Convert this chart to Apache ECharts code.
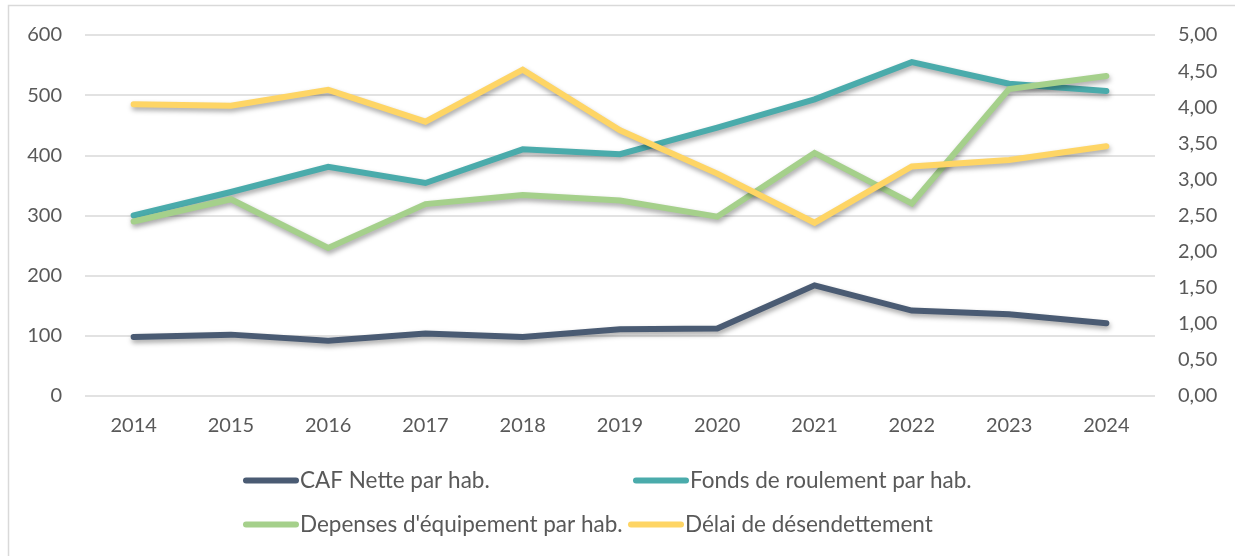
<!DOCTYPE html>
<html lang="fr">
<head>
    <meta charset="utf-8">
</head>
<body style="height: 100%; margin: 0; background: #fff">
<div id="container" style="width: 1235px; height: 556px"></div>

<script type="text/javascript" src="https://fastly.jsdelivr.net/npm/echarts@6/dist/echarts.min.js"></script>
<script type="text/javascript">
    // données
    var annees = ['2014', '2015', '2016', '2017', '2018', '2019', '2020', '2021', '2022', '2023', '2024'];
    var cafNette = [98, 102, 92, 104, 98, 111, 112, 184, 142, 136, 121];
    var fondsRoulement = [300, 339, 381, 354, 410, 402, 446, 493, 555, 519, 507];
    var depensesEquip = [290, 327, 246, 319, 334, 325, 298, 404, 320, 510, 532];
    var delaiDesendettement = [4.04, 4.02, 4.24, 3.80, 4.52, 3.68, 3.08, 2.40, 3.18, 3.27, 3.46];

    var noms = ['CAF Nette par hab.', 'Fonds de roulement par hab.', "Depenses d'équipement par hab.", 'Délai de désendettement'];
    var couleurs = ['#4a5b73', '#4aabab', '#a5d08b', '#fed565'];

    var dom = document.getElementById('container');
    var myChart = echarts.init(dom, null, { renderer: 'canvas' });

    var fontFamily = 'Lato, "Open Sans", sans-serif';
    var iconePath = 'path://M3,0 L53,0 A3,3 0 0 1 53,6 L3,6 A3,3 0 0 1 3,0 Z';

    function ligne(nom, data, couleur, axe) {
        return {
            name: nom,
            type: 'line',
            yAxisIndex: axe,
            data: data,
            showSymbol: false,
            symbol: 'none',
            color: couleur,
            lineStyle: {
                width: 6,
                color: couleur,
                cap: 'round',
                join: 'miter',
                shadowColor: 'rgba(0,0,0,0.35)',
                shadowBlur: 5,
                shadowOffsetX: 1,
                shadowOffsetY: 3
            }
        };
    }

    // une légende par entrée, placées comme dans l'original (2 colonnes)
    var legendPos = [[243, 469], [633, 469], [243, 513], [628, 513]];
    var legendes = noms.map(function (n, i) {
        return {
            data: [n],
            left: legendPos[i][0],
            top: legendPos[i][1],
            icon: iconePath,
            itemWidth: 56,
            itemHeight: 6,
            itemGap: 0,
            padding: 0,
            textStyle: { color: '#595959', fontSize: 22.5, fontFamily: fontFamily, padding: [0, 0, 0, -4] },
            selectedMode: false
        };
    });

    var option = {
        animation: false,
        backgroundColor: '#fff',
        graphic: [{
            type: 'rect',
            shape: { x: 8.5, y: 5.5, width: 1400, height: 700 },
            style: { fill: 'none', stroke: '#d9d9d9', lineWidth: 1.5 },
            silent: true
        }],
        legend: legendes,
        grid: {
            left: 85,
            right: 80,
            top: 35,
            height: 361,
            containLabel: false
        },
        xAxis: {
            type: 'category',
            data: annees,
            boundaryGap: true,
            axisLine: { show: false },
            axisTick: { show: false },
            axisLabel: { color: '#595959', fontSize: 20, fontFamily: fontFamily, margin: 20 }
        },
        yAxis: [{
            type: 'value',
            min: 0,
            max: 600,
            interval: 100,
            axisLine: { show: false },
            axisTick: { show: false },
            splitLine: { lineStyle: { color: '#d9d9d9', width: 1.5 } },
            axisLabel: { color: '#595959', fontSize: 20, fontFamily: fontFamily, margin: 23 }
        }, {
            type: 'value',
            min: 0,
            max: 5,
            interval: 0.5,
            axisLine: { show: false },
            axisTick: { show: false },
            splitLine: { show: false },
            axisLabel: {
                color: '#595959', fontSize: 20, fontFamily: fontFamily, margin: 23,
                formatter: function (v) { return v.toFixed(2).replace('.', ','); }
            }
        }],
        series: [
            ligne(noms[0], cafNette, couleurs[0], 0),
            ligne(noms[1], fondsRoulement, couleurs[1], 0),
            ligne(noms[2], depensesEquip, couleurs[2], 0),
            ligne(noms[3], delaiDesendettement, couleurs[3], 1)
        ]
    };

    myChart.setOption(option);
    window.addEventListener('resize', myChart.resize);
</script>
</body>
</html>
